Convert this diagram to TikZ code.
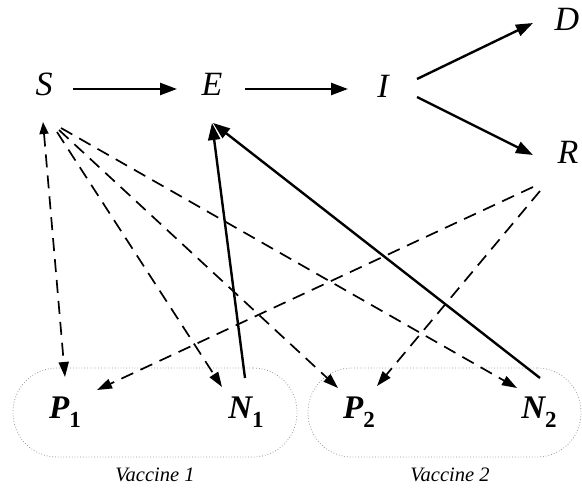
\documentclass[tikz,border=0pt]{standalone}
\usepackage{fontspec}
\setmainfont{Liberation Serif}
\usetikzlibrary{arrows.meta}
\newcommand{\sbx}[1]{\raisebox{-0.25em}{\fontsize{23}{27}\selectfont\upshape #1}}
\begin{document}
\begin{tikzpicture}[x=1pt,y=-1pt,
  lbl/.style={inner sep=0pt,font=\fontsize{34}{40}\selectfont\itshape},
  vlbl/.style={inner sep=0pt,font=\fontsize{33}{40}\selectfont\bfseries\itshape},
  grp/.style={draw=gray!80,dotted,line width=0.8pt,rounded corners=44pt,inner sep=0pt},
  captxt/.style={inner sep=0pt,font=\fontsize{20.5}{24}\selectfont\itshape},
  arr/.style={line width=2.4pt,-{Triangle[length=17pt,width=12pt]}},
  darr/.style={line width=1.7pt,dash pattern=on 13pt off 8pt,-{Triangle[length=15pt,width=10pt]}},
]
\useasboundingbox (0,0) rectangle (582,489);
\node[grp,minimum width=284pt,minimum height=89pt] (v1) at (155,412.5) {};
\node[grp,minimum width=273pt,minimum height=89pt] (v2) at (444.5,412.5) {};
\node[captxt] (c1) at (155,475) {Vaccine 1};
\node[captxt] (c2) at (450,475) {Vaccine 2};

\node[lbl] (S) at (44,84) {S};
\node[lbl] (E) at (212,84) {E};
\node[lbl] (I) at (383,86) {I};
\node[lbl] (D) at (567,19) {D};
\node[lbl] (R) at (568,152) {R};
\node[vlbl,anchor=base] (P1) at (65,419) {P\sbx{1}};
\node[vlbl,anchor=base] (N1) at (246,419) {N\sbx{1}};
\node[vlbl,anchor=base] (P2) at (359,419) {P\sbx{2}};
\node[vlbl,anchor=base] (N2) at (539,419) {N\sbx{2}};
\coordinate (p1) at ([yshift=7pt]P1.base);
\coordinate (n1) at ([yshift=7pt]N1.base);
\coordinate (p2) at ([yshift=7pt]P2.base);
\coordinate (n2) at ([yshift=7pt]N2.base);

\draw[arr] ([shift={(29,5)}]S.center) -- ([shift={(-35,5)}]E.center);
\draw[arr] ([shift={(33,5)}]E.center) -- ([shift={(-35,3)}]I.center);
\draw[arr] ([shift={(34,-7)}]I.center) -- ([shift={(-34,4)}]D.center);
\draw[arr] ([shift={(34,11)}]I.center) -- ([shift={(-35,3)}]R.center);

\draw[darr,{Triangle[length=12pt,width=9pt]}-{Triangle[length=15pt,width=10pt]}] ([shift={(-1,38)}]S.center) -- ([shift={(0,-35)}]p1);
\draw[darr] ([shift={(13,48)}]S.center) -- ([shift={(-24,-25)}]n1);
\draw[darr] ([shift={(15,46)}]S.center) -- ([shift={(-21,-24)}]p2);
\draw[darr] ([shift={(17,44)}]S.center) -- ([shift={(-22,-24)}]n2);
\draw[darr] ([shift={(-35,35)}]R.center) -- ([shift={(32,-22)}]p1);
\draw[darr] ([shift={(-28,39)}]R.center) -- ([shift={(18,-26)}]p2);

\draw[arr] ([shift={(-1,-34)}]n1) -- ([shift={(0,39)}]E.center);
\draw[arr] ([shift={(1,-34)}]n2) -- ([shift={(1,39)}]E.center);
\end{tikzpicture}
\end{document}
